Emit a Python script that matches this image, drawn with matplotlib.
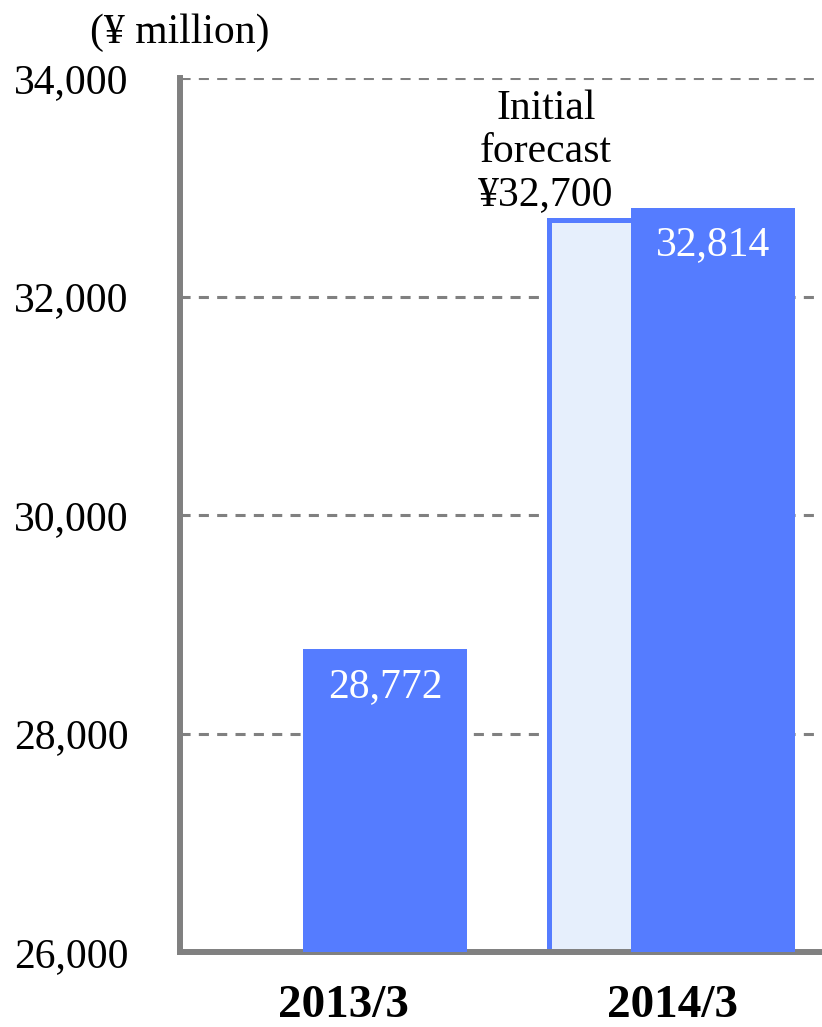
import matplotlib.pyplot as plt

plt.rcParams['font.family'] = ['Liberation Serif', 'DejaVu Serif']

# 売上高 (¥ million)
periods = ['2013/3', '2014/3']
results = [28772, 32814]
forecast_label = 'Initial\nforecast\n¥32,700'
forecast = 32700
yticks = [26000, 28000, 30000, 32000, 34000]

blue = '#557CFF'
light = '#E6EFFC'
gray = '#808080'

fig = plt.figure(figsize=(8.22, 10.27), dpi=100)
ax = fig.add_axes([180 / 822, 75 / 1027, 1 - 180 / 822, 874 / 1027])

# 棒の位置
x_result = [0.639, 1.660]
x_forecast = 1.28
x_label = [0.508, 1.533]

ax.bar(x_forecast, forecast, width=0.26, bottom=0, color=light,
       edgecolor=blue, linewidth=3.6, zorder=2)
ax.bar(x_result, results, width=0.511, color=blue, zorder=3)

for x, v in zip(x_result, results):
    ax.annotate(f'{v:,}', (x, v), xytext=(0, -27), textcoords='offset points',
                ha='center', va='center', color='white', fontsize=30, zorder=4)

ax.annotate(forecast_label, (1.140, forecast), xytext=(0, 4.5),
            textcoords='offset points', ha='center', va='bottom',
            fontsize=30, linespacing=1.15)

ax.set_xlim(0, 2)
ax.set_ylim(26000, 34000)
ax.set_yticks(yticks)
ax.set_yticklabels([f'{t:,}' for t in yticks], fontsize=30)
ax.set_xticks(x_label)
ax.set_xticklabels(periods, fontsize=34, fontweight='bold')
ax.tick_params(axis='y', length=0, pad=37)
ax.tick_params(axis='x', length=0, pad=24)

ax.yaxis.grid(True, color=gray, linewidth=2.2, linestyle=(0, (3.3, 2.7)))
ax.set_axisbelow(True)

for side in ['top', 'right']:
    ax.spines[side].set_visible(False)
for side in ['left', 'bottom']:
    ax.spines[side].set_color(gray)
    ax.spines[side].set_linewidth(4.3)
    ax.spines[side].set_capstyle('projecting')

fig.text(180 / 822, 1 - 33 / 1027, '(¥ million)', ha='center', va='center',
         fontsize=30)

fig.savefig('out.png', dpi=100)
